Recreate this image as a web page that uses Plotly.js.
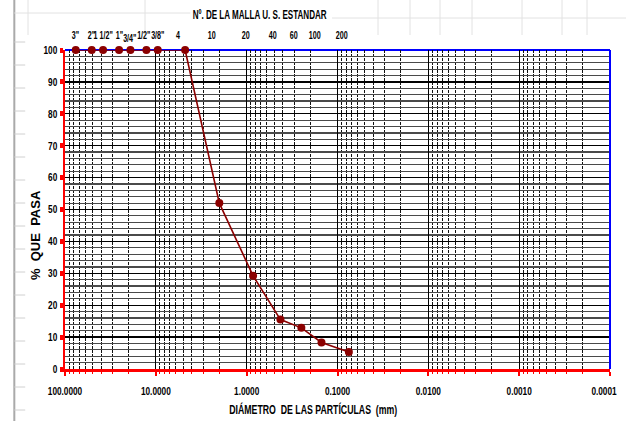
<!DOCTYPE html>
<html>
<head>
<meta charset="utf-8">
<script src="https://cdn.plot.ly/plotly-3.0.1.min.js"></script>
<style>html,body{margin:0;padding:0;background:#fff}#chart{width:626px;height:421px}</style>
</head>
<body>
<div id="chart"></div>
<script>
// Data
var sieveLabels = ['3"', '2"', '1 1/2"', '1"', '3/4"', '1/2"', '3/8"', '4', '10', '20', '40', '60', '100', '200'];
var sieveSizes = [76.2, 50.8, 38.1, 25.4, 19.05, 12.7, 9.525, 4.76, 2.0, 0.85, 0.425, 0.25, 0.15, 0.075];
var percentPassing = [100, 100, 100, 100, 100, 100, 100, 100, 52, 29.2, 15.5, 12.9, 8.3, 5.3];
var xTickVals = [100, 10, 1, 0.1, 0.01, 0.001, 0.0001];
var xTickText = ['100.0000', '10.0000', '1.0000', '0.1000', '0.0100', '0.0010', '0.0001'];
var yTickVals = [0, 10, 20, 30, 40, 50, 60, 70, 80, 90, 100];

var FONT = '"Liberation Sans", Arial, sans-serif';

// minor grid positions (2..9 of each decade)
var minorVals = [];
for (var e = -4; e < 2; e++) {
  for (var d = 2; d <= 9; d++) minorVals.push(d * Math.pow(10, e));
}

var trace = {
  x: sieveSizes, y: percentPassing, type: 'scatter', mode: 'lines+markers',
  line: {color: '#8B0000', width: 1.6},
  marker: {color: '#8B0000', size: 8, symbol: 'circle'},
  cliponaxis: false, hoverinfo: 'skip'
};

var annotations = sieveLabels.map(function (lab, i) {
  var numeric = /^[0-9]+$/.test(lab);
  return {
    x: Math.log10(sieveSizes[i]), xref: 'x', y: 1, yref: 'paper',
    yshift: lab === '3/4"' ? 4 : 7, xshift: numeric ? -7 : (lab === '1/2"' ? -2 : 0),
    text: lab, showarrow: false,
    font: {family: FONT, size: 10.5, color: '#000', weight: 'bold'}, yanchor: 'bottom'
  };
});
annotations.push({
  x: 0.358, xref: 'paper', y: 1.11, yref: 'paper', xanchor: 'center', yanchor: 'middle', text: 'Nº. DE LA MALLA U. S. ESTANDAR',
  showarrow: false, font: {family: FONT, size: 12, color: '#000', weight: 'bold'}
});
annotations.push({
  x: 0.455, xref: 'paper', y: -0.128, yref: 'paper', xanchor: 'center', yanchor: 'middle', text: 'DIÁMETRO  DE LAS PARTÍCULAS  (mm)',
  showarrow: false, font: {family: FONT, size: 12, color: '#000', weight: 'bold'}
});
annotations.push({
  x: -0.055, xref: 'paper', y: 0.42, yref: 'paper', xanchor: 'center', yanchor: 'middle', text: '%  QUE  PASA', textangle: -90,
  showarrow: false, font: {family: FONT, size: 13, color: '#000', weight: 'bold'}
});

// decorative background (spreadsheet frame)
var shapes = [];
shapes.push({type: 'line', xref: 'paper', yref: 'paper', x0: -0.093, x1: -0.093, y0: -0.2, y1: 1.2,
  line: {color: '#aaaaaa', width: 2}, layer: 'below'});
for (var k = 0; k < 17; k++) {
  var py = 1 - (42 + 23 * k - 50) / 319;
  shapes.push({type: 'line', xref: 'paper', yref: 'paper', x0: -0.093, x1: -0.073, y0: py, y1: py,
    line: {color: '#d0d0d0', width: 1}, layer: 'below'});
}
[28, 145, 378, 410, 440, 472, 522, 562, 587].forEach(function (px) {
  var xp = (px - 65) / 545;
  shapes.push({type: 'line', xref: 'paper', yref: 'paper', x0: xp, x1: xp, y0: 1 + 15 / 319, y1: 1 + 50 / 319,
    line: {color: '#e2e2e2', width: 1}, layer: 'below'});
});
shapes.push({type: 'line', xref: 'paper', yref: 'paper', x0: -0.093, x1: 0.23, y0: 1 + 37 / 319, y1: 1 + 37 / 319,
  line: {color: '#e2e2e2', width: 1}, layer: 'below'});
shapes.push({type: 'line', xref: 'paper', yref: 'paper', x0: 0.49, x1: 1.03, y0: 1 + 32 / 319, y1: 1 + 32 / 319,
  line: {color: '#e2e2e2', width: 1}, layer: 'below'});
// blue frame top & right
shapes.push({type: 'line', xref: 'paper', yref: 'paper', x0: 0, x1: 1, y0: 1, y1: 1, line: {color: '#0000ff', width: 2}, layer: 'below'});
shapes.push({type: 'line', xref: 'paper', yref: 'paper', x0: 1, x1: 1, y0: 0, y1: 1, line: {color: '#0000ff', width: 2}});

var layout = {
  width: 626, height: 421,
  margin: {l: 65, r: 16, t: 50, b: 52},
  paper_bgcolor: '#ffffff', plot_bgcolor: '#ffffff',
  showlegend: false,
  xaxis: {
    type: 'log', range: [2.0000001, -4.0000001], tickmode: 'array', tickvals: xTickVals, ticktext: xTickText,
    showline: true, linecolor: '#ff0000', linewidth: 3,
    ticks: 'outside', ticklen: 4, tickwidth: 2, tickcolor: '#ff0000', ticklabelstandoff: 6,
    ticklabeloverflow: 'allow',
    showgrid: true, gridcolor: '#000000', gridwidth: 1,
    tickfont: {family: FONT, size: 11, color: '#000', weight: 'bold'},
    minor: {tickmode: 'array', tickvals: minorVals, showgrid: true, gridcolor: '#111111', gridwidth: 1, griddash: '3px,1px',
      ticks: 'outside', ticklen: 2, tickcolor: '#ff0000', tickwidth: 1},
    zeroline: false, fixedrange: true
  },
  yaxis: {
    range: [0, 100], tickmode: 'array', tickvals: yTickVals,
    showline: true, linecolor: '#ff0000', linewidth: 2.5,
    ticks: 'outside', ticklen: 3, tickwidth: 5, tickcolor: '#ff0000',
    showgrid: true, gridcolor: '#000000', gridwidth: 1.3,
    tickfont: {family: FONT, size: 11, color: '#000', weight: 'bold'},
    minor: {dtick: 2, showgrid: true, gridcolor: '#4a4a4a', gridwidth: 1.2},
    zeroline: false, fixedrange: true
  },
  annotations: annotations,
  shapes: shapes
};

// condense text horizontally (the reference uses a narrow typeface)
function squeeze(el, factor, adjust, target) {
  var w = el.getComputedTextLength();
  if (!w) return;
  el.setAttribute('textLength', target || (w * factor));
  el.setAttribute('lengthAdjust', adjust || 'spacingAndGlyphs');
}

Plotly.newPlot('chart', [trace], layout, {staticPlot: true, displayModeBar: false}).then(function (gd) {
  var xt = gd.querySelectorAll('.xtick text');
  gd.querySelectorAll('.xtick text, .ytick text').forEach(function (t) { squeeze(t, 0.75); });
  if (xt.length) {
    var last = xt[xt.length - 1];
    if (last.textContent === xTickText[xTickText.length - 1]) {
      last.setAttribute('x', (parseFloat(last.getAttribute('x')) || 0) - 6);
    }
  }
  var n = sieveLabels.length;
  gd.querySelectorAll('.annotation').forEach(function (a) {
    var idx = +a.getAttribute('data-index');
    var t = a.querySelector('text');
    if (!t) return;
    if (idx < n) squeeze(t, 0.68);
    else if (idx === n) squeeze(t, 0, null, 134);
    else if (idx === n + 1) squeeze(t, 0, null, 168);
  });
});
</script>
</body>
</html>
